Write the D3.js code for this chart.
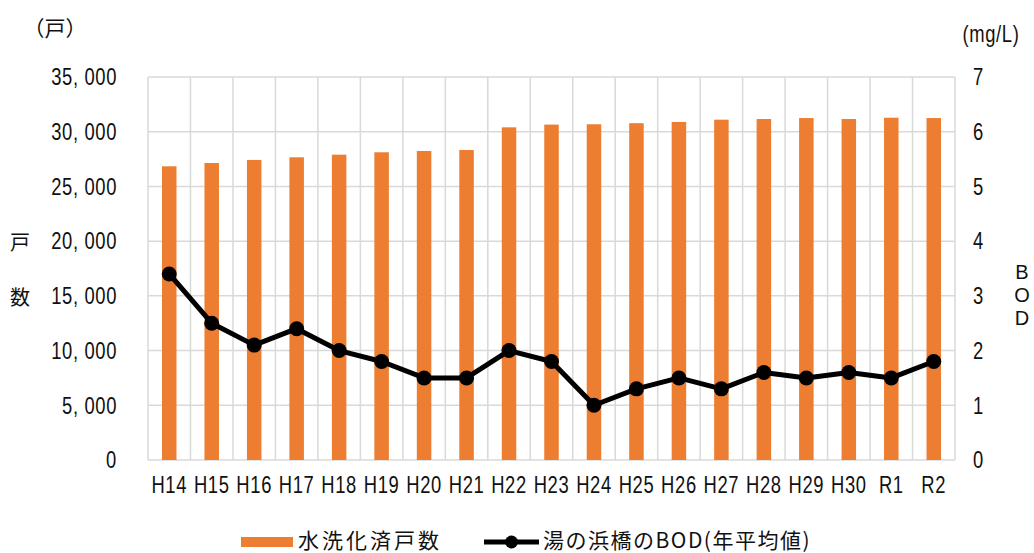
<!DOCTYPE html>
<html>
<head>
<meta charset="utf-8">
<script src="https://cdn.jsdelivr.net/npm/d3@7"></script>
<style>
  body { margin: 0; background: #fff; }
  .num { font-family: "Liberation Sans", Arial, sans-serif; font-size: 23px; fill: #111; letter-spacing: 0.8px; }
  .jp { font-family: "Noto Sans CJK JP", sans-serif; fill: #111; }
</style>
</head>
<body>
<script>
const years = ['H14','H15','H16','H17','H18','H19','H20','H21','H22','H23','H24','H25','H26','H27','H28','H29','H30','R1','R2']
const houses = [26840, 27140, 27420, 27660, 27900, 28120, 28240, 28330, 30400, 30650, 30680, 30780, 30890, 31100, 31160, 31250, 31160, 31280, 31250]
const bod = [3.4, 2.5, 2.1, 2.4, 2.0, 1.8, 1.5, 1.5, 2.0, 1.8, 1.0, 1.3, 1.5, 1.3, 1.6, 1.5, 1.6, 1.5, 1.8]
const leftTicks = [0, 5000, 10000, 15000, 20000, 25000, 30000, 35000]
const rightTicks = [0, 1, 2, 3, 4, 5, 6, 7]
const barName = '水洗化済戸数'
const lineName = '湯の浜橋のBOD(年平均値)'

const w = 1034, h = 553
const pLeft = 148, pRight = 955, pTop = 77, pBottom = 460
const narrow = 0.8

const svg = d3.select('body').append('svg')
    .attr('width', w)
    .attr('height', h)

const x = d3.scaleBand().domain(years).range([pLeft, pRight])
const yL = d3.scaleLinear().domain([0, 35000]).range([pBottom, pTop])
const yR = d3.scaleLinear().domain([0, 7]).range([pBottom, pTop])

// grid
svg.append('g').selectAll('line')
    .data(leftTicks)
    .join('line')
    .attr('x1', pLeft).attr('x2', pRight)
    .attr('y1', d => yL(d)).attr('y2', d => yL(d))
    .attr('stroke', '#d9d9d9').attr('stroke-width', 1.5)

svg.append('g').selectAll('line')
    .data(years.concat(['end']))
    .join('line')
    .attr('x1', (d, i) => pLeft + x.step() * i).attr('x2', (d, i) => pLeft + x.step() * i)
    .attr('y1', pTop).attr('y2', pBottom)
    .attr('stroke', '#d9d9d9').attr('stroke-width', 1.5)

// bars
const bw = 14.5
svg.append('g').selectAll('rect')
    .data(houses)
    .join('rect')
    .attr('x', (d, i) => x(years[i]) + x.bandwidth() / 2 - bw / 2)
    .attr('y', d => yL(d))
    .attr('width', bw)
    .attr('height', d => pBottom - yL(d))
    .attr('fill', '#ed7d31')

// line
const line = d3.line()
    .x((d, i) => x(years[i]) + x.bandwidth() / 2)
    .y(d => yR(d))
svg.append('path')
    .datum(bod)
    .attr('d', line)
    .attr('fill', 'none')
    .attr('stroke', '#000')
    .attr('stroke-width', 5)
    .attr('stroke-linejoin', 'round')
svg.append('g').selectAll('circle')
    .data(bod)
    .join('circle')
    .attr('cx', (d, i) => x(years[i]) + x.bandwidth() / 2)
    .attr('cy', d => yR(d))
    .attr('r', 7.5)
    .attr('fill', '#000')

// axes (narrowed text)
const fmt = d => d3.format(',')(d).replace(',', ', ')
svg.append('g').selectAll('text')
    .data(leftTicks)
    .join('text')
    .attr('class', 'num')
    .attr('transform', d => `translate(117,${yL(d)}) scale(${narrow},1)`)
    .attr('dy', '0.36em')
    .attr('text-anchor', 'end')
    .style('white-space', 'pre')
    .text(fmt)

svg.append('g').selectAll('text')
    .data(rightTicks)
    .join('text')
    .attr('class', 'num')
    .attr('transform', d => `translate(973,${yR(d)}) scale(${narrow},1)`)
    .attr('dy', '0.36em')
    .text(d => d)

svg.append('g').selectAll('text')
    .data(years)
    .join('text')
    .attr('class', 'num')
    .attr('transform', d => `translate(${x(d) + x.bandwidth() / 2},493) scale(${narrow},1)`)
    .attr('text-anchor', 'middle')
    .text(d => d)

// axis titles
svg.append('text').attr('class', 'jp').attr('x', 55).attr('y', 36)
    .attr('text-anchor', 'middle').style('font-size', '21px').text('（戸）')
svg.append('text').attr('class', 'num')
    .attr('transform', `translate(991,42) scale(${narrow},1)`)
    .attr('text-anchor', 'middle').style('font-size', '23px').text('(mg/L)')
svg.append('text').attr('class', 'jp').attr('x', 20).attr('y', 250)
    .attr('text-anchor', 'middle').style('font-size', '20px').text('戸')
svg.append('text').attr('class', 'jp').attr('x', 20).attr('y', 305)
    .attr('text-anchor', 'middle').style('font-size', '20px').text('数')
svg.append('g').selectAll('text')
    .data(['B', 'O', 'D'])
    .join('text')
    .attr('x', 1022)
    .attr('y', (d, i) => 279 + i * 23)
    .attr('text-anchor', 'middle')
    .style('font-family', '"Liberation Sans", Arial, sans-serif')
    .style('font-size', '20px')
    .attr('fill', '#111')
    .text(d => d)

// legend
const lg = svg.append('g')
lg.append('rect').attr('x', 241).attr('y', 537).attr('width', 52).attr('height', 10).attr('fill', '#ed7d31')
lg.append('text').attr('class', 'jp').attr('x', 298).attr('y', 548)
    .style('font-size', '21px').style('letter-spacing', '3px').text(barName)
lg.append('line').attr('x1', 484).attr('x2', 539).attr('y1', 542).attr('y2', 542)
    .attr('stroke', '#000').attr('stroke-width', 5)
lg.append('circle').attr('cx', 511.5).attr('cy', 542).attr('r', 6.5).attr('fill', '#000')
lg.append('text').attr('class', 'jp').attr('x', 543).attr('y', 548)
    .style('font-size', '21px').style('letter-spacing', '1.5px').text(lineName)
</script>
</body>
</html>
